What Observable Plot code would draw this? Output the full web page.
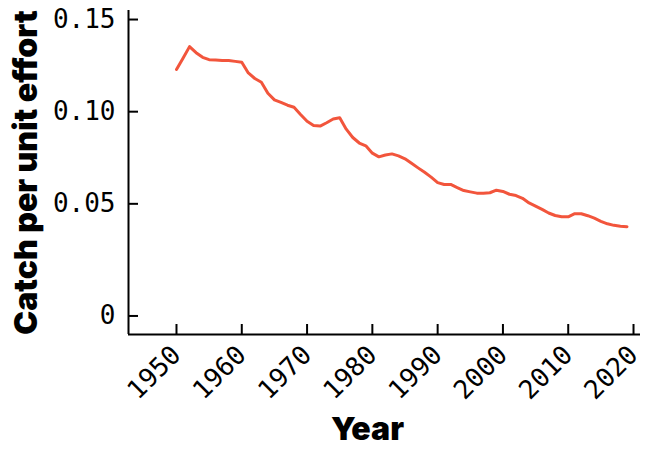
<!DOCTYPE html>
<html>
<head>
<meta charset="utf-8">
<script src="https://cdn.jsdelivr.net/npm/d3@7"></script>
<script src="https://cdn.jsdelivr.net/npm/@observablehq/plot@0.6"></script>
<style>
  html, body { margin: 0; padding: 0; background: #fff; }
  #chart svg { display: block; }
</style>
</head>
<body>
<div id="chart"></div>
<script>
const years = [1950,1951,1952,1953,1954,1955,1956,1957,1958,1959,1960,1961,1962,1963,1964,1965,1966,1967,1968,1969,1970,1971,1972,1973,1974,1975,1976,1977,1978,1979,1980,1981,1982,1983,1984,1985,1986,1987,1988,1989,1990,1991,1992,1993,1994,1995,1996,1997,1998,1999,2000,2001,2002,2003,2004,2005,2006,2007,2008,2009,2010,2011,2012,2013,2014,2015,2016,2017,2018,2019];
const cpue = [0.1229,0.1290,0.1353,0.1320,0.1295,0.1282,0.1280,0.1278,0.1278,0.1273,0.1268,0.1210,0.1180,0.1160,0.1100,0.1064,0.1050,0.1035,0.1024,0.0985,0.0948,0.0925,0.0922,0.0940,0.0960,0.0967,0.0905,0.0860,0.0830,0.0815,0.0775,0.0755,0.0765,0.0771,0.0760,0.0744,0.0720,0.0695,0.0671,0.0645,0.0615,0.0605,0.0605,0.0588,0.0572,0.0565,0.0558,0.0557,0.0560,0.0574,0.0567,0.0552,0.0545,0.0530,0.0505,0.0490,0.0475,0.0459,0.0448,0.0442,0.0442,0.0456,0.0456,0.0447,0.0436,0.0422,0.0411,0.0404,0.0400,0.0398];
const xTicks = [1950,1960,1970,1980,1990,2000,2010,2020];
const yTicks = [0, 0.05, 0.10, 0.15];
const yTickLabels = ["0", "0.05", "0.10", "0.15"];
const xTitle = "Year";
const yTitle = "Catch per unit effort";

const data = years.map((year, i) => ({year, value: cpue[i]}));

const W = 650, H = 449;
const mTop = 10, mBottom = 115, mLeft = 128, mRight = 10;
const frameW = W - mLeft - mRight, frameH = H - mTop - mBottom;
const tickFont = "'DejaVu Sans Mono', monospace";
const titleFont = "Inter, Roboto, sans-serif";

// The reference's y axis stretches the segment between 0 and 0.05
const lowStretch = 1.2168;
const yTransform = v => (v >= 0.05 ? v : 0.05 - (0.05 - v) * lowStretch);
const xAxisStart = 1942.65;
const yAxisStart = -0.00827; // value at the bottom axis line

const chart = Plot.plot({
  width: W,
  height: H,
  marginTop: mTop,
  marginBottom: mBottom,
  marginLeft: mLeft,
  marginRight: mRight,
  style: {background: "#fff", color: "#000"},
  x: {domain: [xAxisStart, 2021.07], axis: null},
  y: {domain: [yTransform(yAxisStart), 0.1549], transform: yTransform, axis: null},
  marks: [
    Plot.line(data, {x: "year", y: "value", stroke: "#f2553c", strokeWidth: 3, strokeLinejoin: "round", strokeLinecap: "round"}),
    Plot.tickX(xTicks, {x: d => d, stroke: "#000", strokeWidth: 2, insetTop: frameH - 10}),
    Plot.tickY(yTicks, {y: d => d, stroke: "#000", strokeWidth: 2, insetRight: frameW - 10}),
    Plot.ruleX([xAxisStart], {stroke: "#000", strokeWidth: 2}),
    Plot.ruleY([yAxisStart], {stroke: "#000", strokeWidth: 2}),
    Plot.axisX({ticks: xTicks, tickSize: 0, tickPadding: 16, tickRotate: -45, tickFormat: d => String(d), fontSize: 26, fontFamily: tickFont, label: null, fill: "#000"}),
    Plot.text(yTicks, {y: d => d, text: (d, i) => yTickLabels[i], frameAnchor: "left", textAnchor: "end", dx: -13, fontSize: 26, fontFamily: tickFont, fill: "#000"}),
    Plot.text([xTitle], {frameAnchor: "bottom", textAnchor: "middle", dx: -17, dy: 105, fontSize: 32, fontWeight: 900, fontFamily: titleFont, fill: "#000"}),
    Plot.text([yTitle], {frameAnchor: "left", textAnchor: "middle", dx: -102, rotate: -90, fontSize: 32, fontWeight: 900, fontFamily: titleFont, fill: "#000"})
  ]
});
document.getElementById("chart").appendChild(chart);
</script>
</body>
</html>
